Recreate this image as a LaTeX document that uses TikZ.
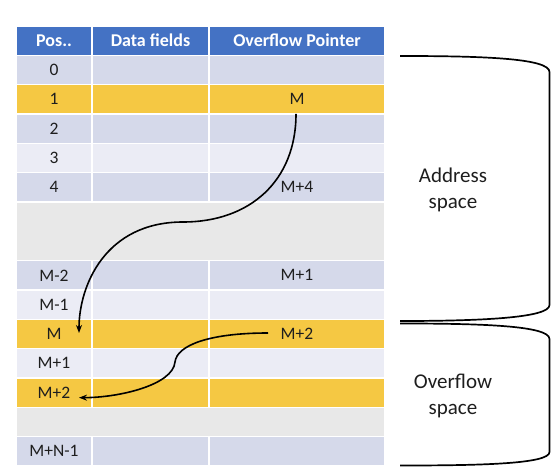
\documentclass[tikz,border=0pt]{standalone}
\usepackage{fontspec}
\setmainfont{Carlito}
\usetikzlibrary{arrows.meta,calc}
\definecolor{hdr}{HTML}{4472C4}
\definecolor{dk}{HTML}{D5D9EA}
\definecolor{lt}{HTML}{EBECF5}
\definecolor{yl}{HTML}{F5C843}
\definecolor{gy}{HTML}{E8E8E8}
\definecolor{txt}{HTML}{1E1E1E}
\begin{document}
\begin{tikzpicture}[x=1pt,y=-1pt,
  cell/.style={rectangle,draw=white,line width=1.6pt,inner sep=0pt,minimum height=29.333pt,text=txt,font=\fontsize{17.5}{20}\selectfont},
  hcell/.style={cell,fill=hdr,text=white,font=\bfseries\fontsize{18}{21}\selectfont},
  ca/.style={minimum width=76pt},
  cb/.style={minimum width=117pt},
  cc/.style={minimum width=176pt},
  bracket/.style={line width=1.7pt,black},
  link/.style={line width=1.6pt,black,-{Stealth[length=8pt,width=6pt]}},
  side/.style={font=\fontsize{21}{26}\selectfont,align=center,text=txt}]
\useasboundingbox (0,0) rectangle (556,470);
\fill[white] (0,0) rectangle (556,470);
% header
\node[hcell,ca] (h-a) at (54,40.67) {Pos..};
\node[hcell,cb] (h-b) at (150.5,40.67) {Data fields};
\node[hcell,cc] (h-c) at (297,40.67) {Overflow Pointer};
% rows
\foreach \k/\col/\pos/\ptr/\nm in {1/dk/0//r0, 2/yl/1/M/r1, 3/dk/2//r2, 4/lt/3//r3, 5/dk/4/M+4/r4, 8/dk/M-2/M+1/r8, 9/lt/M-1//r9, 10/yl/M/M+2/rM, 11/lt/M+1//r11, 12/yl/M+2//r12, 14/dk/M+N-1//r14}{
  \node[cell,ca,fill=\col] (\nm-a) at (54,{26+(\k+0.5)*29.333}) {\pos};
  \node[cell,cb,fill=\col] (\nm-b) at (150.5,{26+(\k+0.5)*29.333}) {};
  \node[cell,cc,fill=\col] (\nm-c) at (297,{26+(\k+0.5)*29.333}) {\ptr};
}
% gap rows
\node[cell,fill=gy,minimum width=369pt,minimum height=58.667pt] (gap1) at (200.5,{26+7*29.333}) {};
\node[cell,fill=gy,minimum width=369pt] (gap2) at (200.5,{26+13.5*29.333}) {};
% arrows
\coordinate (s1) at ($(r1-c.south)+(-1,-1)$);
\coordinate (b1) at (183,222);
\coordinate (e1) at ($(rM-a.center)+(25,-1)$);
\draw[link] (s1) .. controls +(0,67) and +(67,0) .. (b1) .. controls +(-78,0) and +(0,-47) .. (e1);
\coordinate (s2) at ($(rM-c.center)+(-29,-1)$);
\coordinate (b2) at (175,362);
\coordinate (e2) at ($(r12-a.center)+(25,5)$);
\draw[link] (s2) .. controls +(-58,0) and +(2,-17) .. (b2) .. controls +(-2,23) and +(40,0) .. (e2);
% brackets
\coordinate (at) at (400,56);
\coordinate (ab) at (400,321);
\coordinate (ot) at (400,323.5);
\coordinate (ob) at (400,465.5);
\draw[bracket] (at) .. controls +(80,0) and (549.5,58) .. (549.5,72) -- (549.5,305) .. controls (549.5,318) and (480,321) .. (ab);
\draw[bracket] (ot) .. controls +(80,0) and (549.5,325.5) .. (549.5,339) -- (549.5,452) .. controls (549.5,464) and (480,465.5) .. (ob);
\node[side] (addr) at (453,190) {Address\\space};
\node[side] (ovf) at (453,396) {Overflow\\space};
\end{tikzpicture}
\end{document}
